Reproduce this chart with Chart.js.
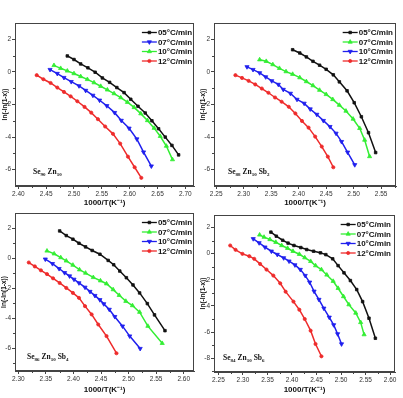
<!DOCTYPE html>
<html lang="en">
<head>
<meta charset="UTF-8">
<title>ln(-ln(1-x)) vs 1000/T</title>
<script src="https://cdn.jsdelivr.net/npm/chart.js"></script>
<style>
  body { margin: 0; background: #fff; }
  #wrap { position: relative; width: 403px; height: 398px; overflow: hidden; }
  .panel { position: absolute; }
  canvas { display: block; }
</style>
</head>
<body>
<div id="wrap">
  <div class="panel" style="left:0;top:0"><canvas id="pA" width="199" height="208"></canvas></div>
  <div class="panel" style="left:199px;top:0"><canvas id="pB" width="204" height="208"></canvas></div>
  <div class="panel" style="left:0;top:208px"><canvas id="pC" width="199" height="190"></canvas></div>
  <div class="panel" style="left:199px;top:208px"><canvas id="pD" width="204" height="190"></canvas></div>
</div>
<script>
const rates = ['05°C/min', '07°C/min', '10°C/min', '12°C/min'];

// Se90 Zn10
const a05 = [[2.488,0.98],[2.500,0.76],[2.512,0.49],[2.525,0.25],[2.538,-0.02],[2.551,-0.37],[2.564,-0.64],[2.577,-0.96],[2.590,-1.27],[2.602,-1.68],[2.615,-2.11],[2.628,-2.52],[2.640,-3.00],[2.652,-3.49],[2.664,-4.00],[2.676,-4.51],[2.688,-5.09]];
const a07 = [[2.457,0.14],[2.470,-0.10],[2.482,-0.35],[2.495,-0.60],[2.509,-0.86],[2.521,-1.14],[2.534,-1.44],[2.546,-1.74],[2.559,-2.08],[2.573,-2.50],[2.585,-2.98],[2.599,-3.46],[2.613,-4.12],[2.625,-4.92],[2.639,-5.78]];
const a10 = [[2.464,0.40],[2.476,0.22],[2.488,0.06],[2.500,-0.10],[2.512,-0.28],[2.524,-0.46],[2.536,-0.66],[2.548,-0.88],[2.560,-1.10],[2.572,-1.33],[2.584,-1.58],[2.596,-1.86],[2.608,-2.18],[2.620,-2.56],[2.632,-2.98],[2.644,-3.45],[2.655,-3.95],[2.666,-4.55],[2.677,-5.38]];
const a12 = [[2.433,-0.20],[2.445,-0.45],[2.458,-0.68],[2.470,-0.96],[2.482,-1.23],[2.494,-1.50],[2.506,-1.80],[2.519,-2.15],[2.531,-2.50],[2.543,-2.90],[2.556,-3.35],[2.570,-3.80],[2.583,-4.40],[2.597,-5.20],[2.609,-5.85],[2.621,-6.50]];

// Se88 Zn10 Sb2
const b05 = [[2.389,1.36],[2.402,1.16],[2.414,0.92],[2.426,0.65],[2.438,0.41],[2.450,0.16],[2.463,-0.18],[2.474,-0.61],[2.488,-1.16],[2.501,-1.89],[2.514,-2.75],[2.527,-3.73],[2.540,-4.95]];
const b07 = [[2.329,0.75],[2.341,0.65],[2.353,0.45],[2.365,0.22],[2.377,0.02],[2.389,-0.14],[2.402,-0.35],[2.414,-0.59],[2.426,-0.84],[2.438,-1.12],[2.450,-1.38],[2.462,-1.69],[2.474,-2.04],[2.486,-2.40],[2.499,-2.89],[2.511,-3.46],[2.520,-4.18],[2.529,-5.19]];
const b10 = [[2.306,0.31],[2.317,0.14],[2.329,-0.06],[2.340,-0.31],[2.351,-0.55],[2.363,-0.77],[2.372,-1.08],[2.385,-1.32],[2.397,-1.69],[2.410,-1.93],[2.421,-2.28],[2.433,-2.61],[2.445,-2.99],[2.457,-3.36],[2.468,-3.77],[2.478,-4.28],[2.489,-4.93],[2.502,-5.70]];
const b12 = [[2.285,-0.20],[2.297,-0.37],[2.309,-0.55],[2.321,-0.77],[2.333,-1.02],[2.345,-1.28],[2.357,-1.57],[2.369,-1.83],[2.382,-2.14],[2.394,-2.55],[2.406,-3.01],[2.418,-3.42],[2.430,-3.97],[2.442,-4.58],[2.453,-5.20],[2.463,-5.85]];

// Se86 Zn10 Sb4
const c05 = [[2.375,1.81],[2.387,1.50],[2.399,1.26],[2.410,0.99],[2.422,0.75],[2.434,0.51],[2.448,0.26],[2.463,-0.15],[2.473,-0.44],[2.484,-0.86],[2.496,-1.30],[2.508,-1.78],[2.520,-2.31],[2.534,-3.02],[2.547,-3.77],[2.566,-4.82]];
const c07 = [[2.352,0.48],[2.365,0.29],[2.377,0.04],[2.387,-0.18],[2.399,-0.46],[2.411,-0.77],[2.422,-0.99],[2.436,-1.28],[2.449,-1.50],[2.460,-1.70],[2.472,-2.09],[2.483,-2.47],[2.495,-2.86],[2.507,-3.15],[2.520,-3.59],[2.535,-4.52],[2.561,-5.66]];
const c10 = [[2.349,-0.07],[2.362,-0.37],[2.374,-0.70],[2.384,-0.97],[2.393,-1.19],[2.401,-1.41],[2.410,-1.65],[2.421,-1.94],[2.430,-2.22],[2.439,-2.49],[2.448,-2.77],[2.455,-3.04],[2.465,-3.41],[2.475,-3.89],[2.489,-4.52],[2.502,-5.18],[2.521,-6.01]];
const c12 = [[2.319,-0.29],[2.330,-0.55],[2.341,-0.81],[2.352,-1.06],[2.363,-1.34],[2.375,-1.65],[2.387,-1.98],[2.399,-2.31],[2.410,-2.64],[2.421,-3.19],[2.433,-3.74],[2.445,-4.41],[2.460,-5.18],[2.478,-6.32]];

// Se84 Zn10 Sb6
const d05 = [[2.357,1.64],[2.368,1.33],[2.381,1.02],[2.392,0.80],[2.404,0.62],[2.418,0.46],[2.430,0.31],[2.444,0.18],[2.458,0.06],[2.469,-0.08],[2.483,-0.40],[2.494,-0.92],[2.506,-1.47],[2.519,-2.06],[2.532,-2.75],[2.544,-3.67],[2.557,-4.94],[2.570,-6.47]];
const d07 = [[2.334,1.43],[2.343,1.26],[2.355,1.08],[2.367,0.87],[2.379,0.62],[2.391,0.41],[2.402,0.18],[2.415,-0.05],[2.426,-0.31],[2.438,-0.59],[2.448,-0.92],[2.460,-1.22],[2.471,-1.63],[2.484,-2.11],[2.494,-2.65],[2.505,-3.28],[2.516,-3.90],[2.530,-4.54],[2.540,-5.26],[2.547,-6.19]];
const d10 = [[2.321,1.13],[2.333,0.82],[2.345,0.49],[2.358,0.18],[2.370,-0.07],[2.383,-0.33],[2.394,-0.58],[2.406,-0.87],[2.417,-1.22],[2.427,-1.68],[2.436,-2.19],[2.445,-2.88],[2.455,-3.51],[2.465,-4.18],[2.476,-4.87],[2.485,-5.45],[2.493,-6.14],[2.501,-6.91]];
const d12 = [[2.274,0.62],[2.285,0.29],[2.299,-0.02],[2.313,-0.20],[2.323,-0.40],[2.335,-0.79],[2.348,-1.22],[2.362,-1.68],[2.376,-2.27],[2.387,-2.91],[2.403,-3.67],[2.415,-4.29],[2.426,-5.00],[2.438,-5.89],[2.448,-6.91],[2.460,-7.85]];

const xTicksA = [2.40, 2.45, 2.50, 2.55, 2.60, 2.65, 2.70];
const xTicksB = [2.25, 2.30, 2.35, 2.40, 2.45, 2.50, 2.55];
const xTicksC = [2.30, 2.35, 2.40, 2.45, 2.50, 2.55, 2.60];
const xTicksD = [2.25, 2.30, 2.35, 2.40, 2.45, 2.50, 2.55, 2.60];
const yTicks = [-6, -4, -2, 0, 2];
const yTicksD = [-8, -6, -4, -2, 0, 2];

const BLACK = '#111111', BLUE = '#1f1fee', GREEN = '#33ee33', RED = '#ee2b2b';
const styles = {};
styles[BLACK] = { pointStyle: 'rect', pointRadius: 1.8, pointRotation: 0 };
styles[BLUE] = { pointStyle: 'triangle', pointRadius: 2.4, pointRotation: 180 };
styles[GREEN] = { pointStyle: 'triangle', pointRadius: 2.4, pointRotation: 0 };
styles[RED] = { pointStyle: 'circle', pointRadius: 1.6, pointRotation: 0 };

const tickFont = { family: 'Arial, "Liberation Sans", sans-serif', size: 6.5 };
const crisp = v => Math.round(v) + 0.5;

function minors(ticks, step, min, max) {
  const out = [];
  [ticks[0] - step].concat(ticks).forEach(t => {
    const m = t + step / 2;
    if (m > min && m < max) out.push(m);
  });
  return out;
}

// frame, minor ticks, legend and composition label
const decor = {
  id: 'decor',
  afterDraw(chart, args, o) {
    const { ctx, chartArea: a } = chart;
    const xs = chart.scales.x, ys = chart.scales.y;
    ctx.save();
    ctx.strokeStyle = '#444';
    ctx.lineWidth = 1;
    ctx.strokeRect(crisp(a.left), crisp(a.top), Math.round(a.right - a.left) - 1, Math.round(a.bottom - a.top) - 1);
    ctx.beginPath();
    minors(o.xt, 0.05, xs.min, xs.max).forEach(v => {
      const p = crisp(xs.getPixelForValue(v));
      ctx.moveTo(p, a.bottom); ctx.lineTo(p, a.bottom + 2);
    });
    minors(o.yt, 2, ys.min, ys.max).forEach(v => {
      const p = crisp(ys.getPixelForValue(v));
      ctx.moveTo(a.left, p); ctx.lineTo(a.left - 2, p);
    });
    ctx.stroke();

    // legend
    ctx.font = 'bold 8px Arial, "Liberation Sans", sans-serif';
    ctx.textBaseline = 'middle';
    chart.data.datasets.forEach((ds, i) => {
      const y = a.top + 9.5 + i * 9.5;
      const w = ctx.measureText(ds.label).width;
      const tx = a.right - o.legRight - w;
      ctx.strokeStyle = ds.borderColor;
      ctx.lineWidth = 1.3;
      ctx.beginPath(); ctx.moveTo(tx - 16, y); ctx.lineTo(tx - 1, y); ctx.stroke();
      ctx.fillStyle = ds.borderColor;
      ctx.lineWidth = 0.8;
      Chart.helpers.drawPoint(ctx, { pointStyle: ds.pointStyle, rotation: ds.pointRotation, radius: ds.pointRadius, borderWidth: 0.8 }, tx - 8.5, y);
      ctx.fillStyle = '#111';
      ctx.fillText(ds.label, tx, y + 0.5);
    });

    // composition
    let x = a.left + o.labDx;
    const by = a.bottom - 12;
    ctx.fillStyle = '#111';
    ctx.textBaseline = 'alphabetic';
    const re = /([A-Za-z]+)(\d*)/g;
    let m;
    while ((m = re.exec(o.comp)) !== null) {
      ctx.font = 'bold 7.5px "Times New Roman", "Liberation Serif", serif';
      ctx.fillText(m[1], x, by);
      x += ctx.measureText(m[1]).width;
      ctx.font = 'bold 5px "Times New Roman", "Liberation Serif", serif';
      ctx.fillText(m[2], x, by + 1.8);
      x += ctx.measureText(m[2]).width + 2;
    }
    ctx.restore();
  }
};

function makePanel(id, p) {
  const datasets = p.series.map((s, i) => Object.assign({
    label: rates[i],
    data: s.pts.map(q => ({ x: q[0], y: q[1] })),
    showLine: true,
    borderColor: s.color,
    backgroundColor: s.color,
    borderWidth: 1.5,
    pointBorderWidth: 0.8,
    tension: 0
  }, styles[s.color]));

  new Chart(document.getElementById(id), {
    type: 'scatter',
    data: { datasets },
    plugins: [decor],
    options: {
      responsive: false,
      animation: false,
      layout: { padding: { top: p.top, right: p.right, left: 0, bottom: 0 } },
      plugins: {
        legend: { display: false },
        tooltip: { enabled: false },
        decor: { xt: p.xt, yt: p.yt, comp: p.comp, labDx: p.labDx, legRight: p.legRight }
      },
      scales: {
        x: {
          type: 'linear', min: p.xmin, max: p.xmax,
          afterBuildTicks: s => { s.ticks = p.xt.map(v => ({ value: v })); },
          afterFit: s => { s.height = p.xh; },
          grid: { drawOnChartArea: false, drawTicks: true, tickLength: 3, color: '#444' },
          border: { display: true, color: '#444' },
          ticks: { font: tickFont, color: '#333', padding: 1, maxRotation: 0, autoSkip: false, callback: v => v.toFixed(2) },
          title: { display: true, text: '1000/T(K⁻¹)', color: '#111', padding: { top: 0, bottom: p.xtp },
                   font: { family: 'Arial, "Liberation Sans", sans-serif', size: 8, weight: 'bold' } }
        },
        y: {
          min: p.ymin, max: p.ymax,
          afterBuildTicks: s => { s.ticks = p.yt.map(v => ({ value: v })); },
          afterFit: s => { s.width = 15; },
          grid: { drawOnChartArea: false, drawTicks: true, tickLength: 3, color: '#444' },
          border: { display: true, color: '#444' },
          ticks: { font: tickFont, color: '#333', padding: 1, autoSkip: false, callback: v => String(v) },
          title: { display: true, text: 'ln(-ln(1-x))', color: '#111', padding: { top: p.ytp, bottom: 0 },
                   font: { family: 'Arial, "Liberation Sans", sans-serif', size: 6.5, weight: 'bold' } }
        }
      }
    }
  });
}

makePanel('pA', {
  series: [{ pts: a05, color: BLACK }, { pts: a07, color: BLUE }, { pts: a10, color: GREEN }, { pts: a12, color: RED }],
  xmin: 2.394, xmax: 2.716, ymin: -7, ymax: 3, xt: xTicksA, yt: yTicks,
  top: 23, right: 4, xh: 22, xtp: 0.5, ytp: 1, comp: 'Se90 Zn10', labDx: 18, legRight: 2
});
makePanel('pB', {
  series: [{ pts: b05, color: BLACK }, { pts: b07, color: GREEN }, { pts: b10, color: BLUE }, { pts: b12, color: RED }],
  xmin: 2.246, xmax: 2.577, ymin: -7, ymax: 3, xt: xTicksB, yt: yTicks,
  top: 23, right: 7, xh: 22, xtp: 0.5, ytp: 0, comp: 'Se88 Zn10 Sb2', labDx: 14, legRight: 3
});
makePanel('pC', {
  series: [{ pts: c05, color: BLACK }, { pts: c07, color: GREEN }, { pts: c10, color: BLUE }, { pts: c12, color: RED }],
  xmin: 2.294, xmax: 2.619, ymin: -7.5, ymax: 3, xt: xTicksC, yt: yTicks,
  top: 5, right: 4, xh: 27, xtp: 3, ytp: 0, comp: 'Se86 Zn10 Sb4', labDx: 12, legRight: 2
});
makePanel('pD', {
  series: [{ pts: d05, color: BLACK }, { pts: d07, color: GREEN }, { pts: d10, color: BLUE }, { pts: d12, color: RED }],
  xmin: 2.241, xmax: 2.610, ymin: -9.05, ymax: 2.95, xt: xTicksD, yt: yTicksD,
  top: 7, right: 8, xh: 26, xtp: 3.5, ytp: 0, comp: 'Se84 Zn10 Sb6', labDx: 9, legRight: 4
});
</script>
</body>
</html>
